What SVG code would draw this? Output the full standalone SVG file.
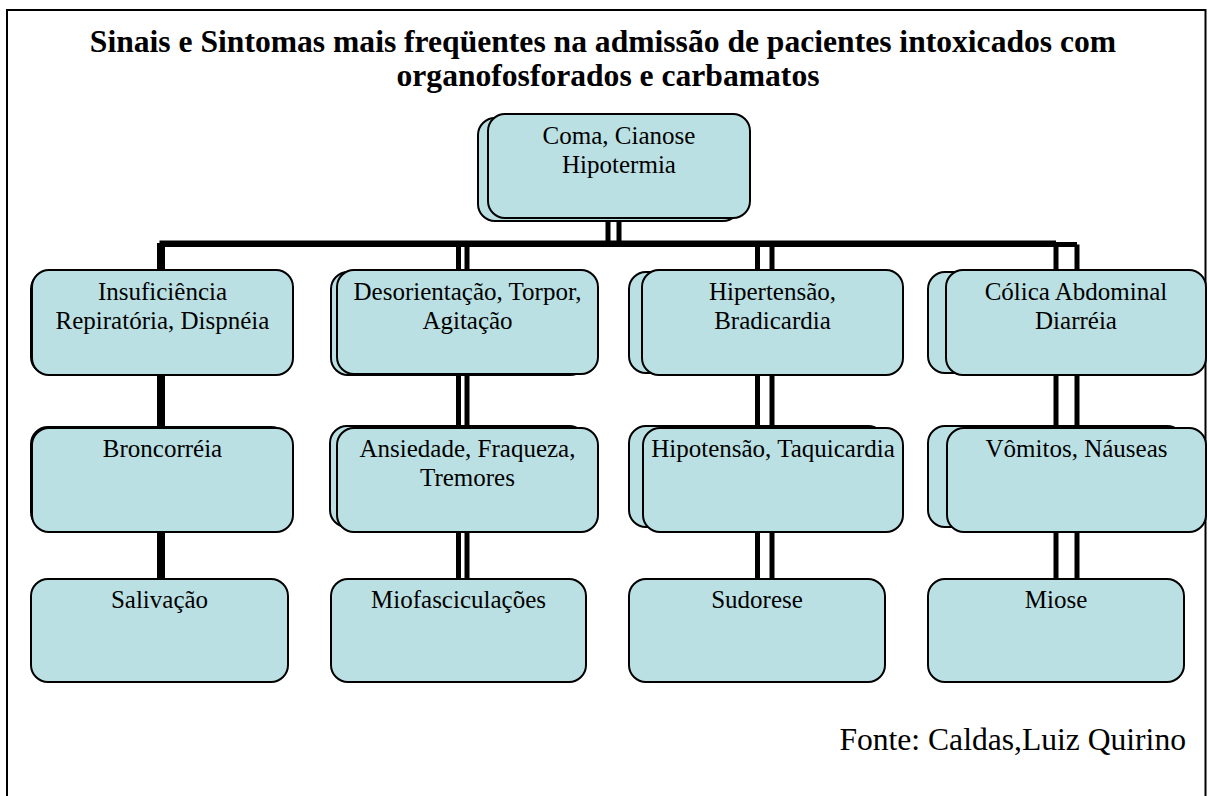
<svg xmlns="http://www.w3.org/2000/svg" width="1209" height="796" viewBox="0 0 1209 796">
<style>
.box{fill:#BBE0E3;stroke:#000;stroke-width:2}
.ln{fill:none;stroke:#000;stroke-width:5;stroke-linecap:butt;stroke-linejoin:miter}
.t{font-family:"Liberation Serif","Times New Roman",serif;font-size:25px;fill:#000;text-anchor:middle}
.title{font-family:"Liberation Serif","Times New Roman",serif;font-size:31.6px;font-weight:bold;fill:#000;text-anchor:middle}
.src{font-family:"Liberation Serif","Times New Roman",serif;font-size:31.6px;fill:#000;text-anchor:end}
</style>
<rect x="0" y="0" width="1209" height="796" fill="#fff"/>
<rect id="frame" x="7" y="10" width="1198.5" height="800" fill="none" stroke="#000" stroke-width="2"/>
<g id="title">
<text class="title" x="603" y="52">Sinais e Sintomas mais freqüentes na admissão de pacientes intoxicados com</text>
<text class="title" x="608" y="86">organofosforados e carbamatos</text>
</g>
<g id="connectors">
<path class="ln" d="M608,218 V243 M159.5,243 H1056 M159.5,243 V580 M458.5,243 V580 M757.5,243 V580 M1056,243 V580"/>
<path class="ln" d="M619,218 V244.5 M162.5,244.5 H1077 M162.5,244.5 V580 M467,244.5 V580 M772,244.5 V580 M1077,244.5 V580"/>
</g>
<g id="n-top">
<rect class="box" x="478" y="118" width="262" height="103" rx="17"/>
<rect class="box" x="488" y="114" width="262" height="104" rx="17"/>
<text class="t" x="619" y="144">Coma, Cianose</text>
<text class="t" x="619" y="173">Hipotermia</text>
</g>
<g id="n-insuf">
<rect class="box" x="31" y="272" width="257" height="102" rx="17"/>
<rect class="box" x="32" y="270" width="261" height="105" rx="17"/>
<text class="t" x="162.5" y="300">Insuficiência</text>
<text class="t" x="162.5" y="329">Repiratória, Dispnéia</text>
</g>
<g id="n-desor">
<rect class="box" x="331" y="272" width="256" height="103" rx="17"/>
<rect class="box" x="337" y="270" width="261" height="104" rx="17"/>
<text class="t" x="467.5" y="300">Desorientação, Torpor,</text>
<text class="t" x="467.5" y="329">Agitação</text>
</g>
<g id="n-hiper">
<rect class="box" x="629" y="272" width="256" height="101" rx="17"/>
<rect class="box" x="642" y="270" width="261" height="105" rx="17"/>
<text class="t" x="772.5" y="300">Hipertensão,</text>
<text class="t" x="772.5" y="329">Bradicardia</text>
</g>
<g id="n-colica">
<rect class="box" x="928" y="272" width="256" height="101" rx="17"/>
<rect class="box" x="946" y="270" width="260" height="105" rx="17"/>
<text class="t" x="1076" y="300">Cólica Abdominal</text>
<text class="t" x="1076" y="329">Diarréia</text>
</g>
<g id="n-bronc">
<rect class="box" x="31" y="427" width="257" height="102" rx="17"/>
<rect class="box" x="32" y="428" width="261" height="104" rx="17"/>
<text class="t" x="162.5" y="457">Broncorréia</text>
</g>
<g id="n-ansied">
<rect class="box" x="330" y="426" width="256" height="101" rx="17"/>
<rect class="box" x="337" y="428" width="261" height="104" rx="17"/>
<text class="t" x="467.5" y="457">Ansiedade, Fraqueza,</text>
<text class="t" x="467.5" y="486">Tremores</text>
</g>
<g id="n-hipot">
<rect class="box" x="629" y="426" width="256" height="101" rx="17"/>
<rect class="box" x="643" y="428" width="260" height="104" rx="17"/>
<text class="t" x="773" y="457">Hipotensão, Taquicardia</text>
</g>
<g id="n-vomit">
<rect class="box" x="928" y="426" width="256" height="101" rx="17"/>
<rect class="box" x="947" y="428" width="259" height="104" rx="17"/>
<text class="t" x="1076.5" y="457">Vômitos, Náuseas</text>
</g>
<g id="n-saliv">
<rect class="box" x="31" y="579" width="257" height="103" rx="17"/>
<text class="t" x="159.5" y="608">Salivação</text>
</g>
<g id="n-miofasc">
<rect class="box" x="331" y="579" width="255" height="103" rx="17"/>
<text class="t" x="458.5" y="608">Miofasciculações</text>
</g>
<g id="n-sudor">
<rect class="box" x="629" y="579" width="256" height="103" rx="17"/>
<text class="t" x="757" y="608">Sudorese</text>
</g>
<g id="n-miose">
<rect class="box" x="928" y="579" width="256" height="103" rx="17"/>
<text class="t" x="1056" y="608">Miose</text>
</g>
<text id="fonte" class="src" x="1186" y="750">Fonte: Caldas,Luiz Quirino</text>
</svg>
